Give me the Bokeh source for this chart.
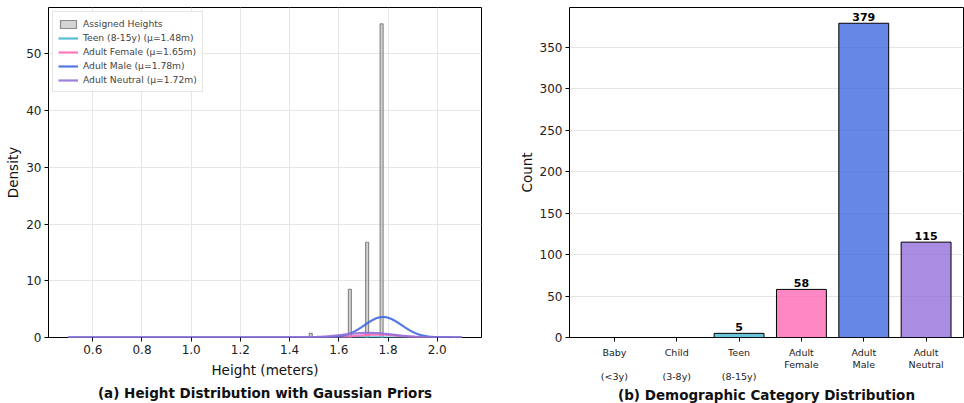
import numpy as np
from bokeh.plotting import figure
from bokeh.layouts import row
from bokeh.models import ColumnDataSource, FixedTicker, Legend, LegendItem, Title
from bokeh.core.properties import value
from bokeh.embed import file_html
from bokeh.resources import INLINE

FONT = "DejaVu Sans"

# ---- data: histogram (density) ----
hist_centers = [1.486, 1.645, 1.715, 1.774]
hist_density = [0.73, 8.5, 16.8, 55.3]
hist_width = 0.012

# ---- data: gaussian prior curves ----
curve_labels = ["Teen (8-15y) (μ=1.48m)", "Adult Female (μ=1.65m)",
                "Adult Male (μ=1.78m)", "Adult Neutral (μ=1.72m)"]
curve_colors = ["#45B7D1", "#FF69B4", "#4169E1", "#9370DB"]
curve_mu = [1.65, 1.76, 1.78, 1.72]
curve_sigma = [0.05, 0.08, 0.075, 0.10]
curve_weight = [0.009, 0.104, 0.680, 0.206]
curve_x_min, curve_x_max = 0.5, 2.1

# ---- data: demographic counts ----
categories = ["Baby\n\n(<3y)", "Child\n\n(3-8y)", "Teen\n\n(8-15y)",
              "Adult\nFemale", "Adult\nMale", "Adult\nNeutral"]
counts = [0, 0, 5, 58, 379, 115]
bar_colors = ["#cccccc", "#cccccc", "#45B7D1", "#FF69B4", "#4169E1", "#9370DB"]

titles = ["(a) Height Distribution with Gaussian Priors",
          "(b) Demographic Category Distribution"]


def style(p):
    p.outline_line_color = "black"
    p.outline_line_alpha = 1
    p.outline_line_width = 1
    for ax in p.axis:
        ax.axis_line_color = None
        ax.major_tick_line_color = "black"
        ax.major_tick_out = 4
        ax.major_tick_in = 0
        ax.minor_tick_line_color = None
        ax.major_label_text_font = FONT
        ax.major_label_text_font_size = "12px"
        ax.major_label_text_color = "#222222"
        ax.major_label_standoff = 3
        ax.axis_label_text_font = FONT
        ax.axis_label_text_font_style = "normal"
        ax.axis_label_text_font_size = "13.5px"
        ax.axis_label_text_color = "#111111"
        ax.axis_label_standoff = 2
    for g in p.grid:
        g.grid_line_color = "#e6e6e6"
        g.grid_line_width = 1


def add_title(p, text, standoff):
    t = Title(text=text, align="center", text_font=FONT, text_font_style="bold",
              text_font_size="13.5px", text_color="#111111", standoff=standoff,
              text_line_height=0.75)
    p.add_layout(t, "below")


H = 403

# ================= Left figure =================
p1 = figure(width=496, height=H, output_backend="svg", toolbar_location=None,
            x_range=(0.42, 2.18), y_range=(0, 58.2),
            min_border_left=48, min_border_right=15, min_border_top=7,
            min_border_bottom=0)
style(p1)
p1.xaxis.ticker = FixedTicker(ticks=[0.6, 0.8, 1.0, 1.2, 1.4, 1.6, 1.8, 2.0])
p1.xaxis.major_label_overrides = {t: f"{t:.1f}" for t in [0.6, 0.8, 1.0, 1.2, 1.4, 1.6, 1.8, 2.0]}
p1.yaxis.ticker = FixedTicker(ticks=[0, 10, 20, 30, 40, 50])
p1.xaxis.axis_label = "Height (meters)"
p1.xaxis.axis_label_standoff = 5
p1.yaxis.axis_label = "Density"

hsrc = ColumnDataSource(dict(x=hist_centers, top=hist_density))
hb = p1.vbar(x="x", top="top", width=hist_width, source=hsrc,
             fill_color="#b0b0b0", fill_alpha=0.55, line_color="#8a8a8a", line_width=1.2)

items = [LegendItem(label="Assigned Heights", renderers=[hb])]
xs = np.linspace(curve_x_min, curve_x_max, 600)
for lab, col, mu, sd, w in zip(curve_labels, curve_colors, curve_mu, curve_sigma, curve_weight):
    ys = w / (sd * np.sqrt(2 * np.pi)) * np.exp(-0.5 * ((xs - mu) / sd) ** 2)
    r = p1.line(xs, ys, line_color=col, line_width=2.2, line_alpha=0.9)
    items.append(LegendItem(label=lab, renderers=[r]))

leg = Legend(items=items, location="top_left")
leg.label_text_font = FONT
leg.label_text_font_size = "9.2px"
leg.label_height = 13
leg.glyph_height = 10
leg.glyph_width = 20
leg.spacing = 1
leg.padding = 5
leg.margin = 4
leg.border_line_color = "#cccccc"
leg.border_line_width = 1
leg.background_fill_alpha = 0.85
p1.add_layout(leg)
add_title(p1, titles[0], 5)

# ================= Right figure =================
idx = list(range(len(categories)))
p2 = figure(width=468, height=H, output_backend="svg", toolbar_location=None,
            x_range=(-0.72, 5.6), y_range=(0, 398),
            min_border_left=73, min_border_right=1, min_border_top=7,
            min_border_bottom=0)
style(p2)
p2.xgrid.visible = False
p2.xaxis.ticker = FixedTicker(ticks=idx)
p2.xaxis.major_label_overrides = {i: c for i, c in zip(idx, categories)}
p2.xaxis.major_label_text_font_size = "9.5px"
p2.xaxis.major_label_text_line_height = 1.1
p2.xaxis.major_label_standoff = 5
p2.yaxis.ticker = FixedTicker(ticks=[0, 50, 100, 150, 200, 250, 300, 350])
p2.yaxis.axis_label = "Count"

bsrc = ColumnDataSource(dict(x=idx, top=counts, color=bar_colors,
                             lab=[str(c) if c > 0 else "" for c in counts]))
p2.vbar(x="x", top="top", width=0.8, source=bsrc, fill_color="color",
        fill_alpha=0.8, line_color="black", line_width=1)
p2.text(x="x", y="top", text="lab", source=bsrc, text_align="center",
        text_baseline="bottom", y_offset=-2, text_font=value(FONT),
        text_font_style="bold", text_font_size="11px", text_color="black")
add_title(p2, titles[1], 0)

layout = row(p1, p2)
open("out.html", "w").write(file_html(layout, INLINE))
